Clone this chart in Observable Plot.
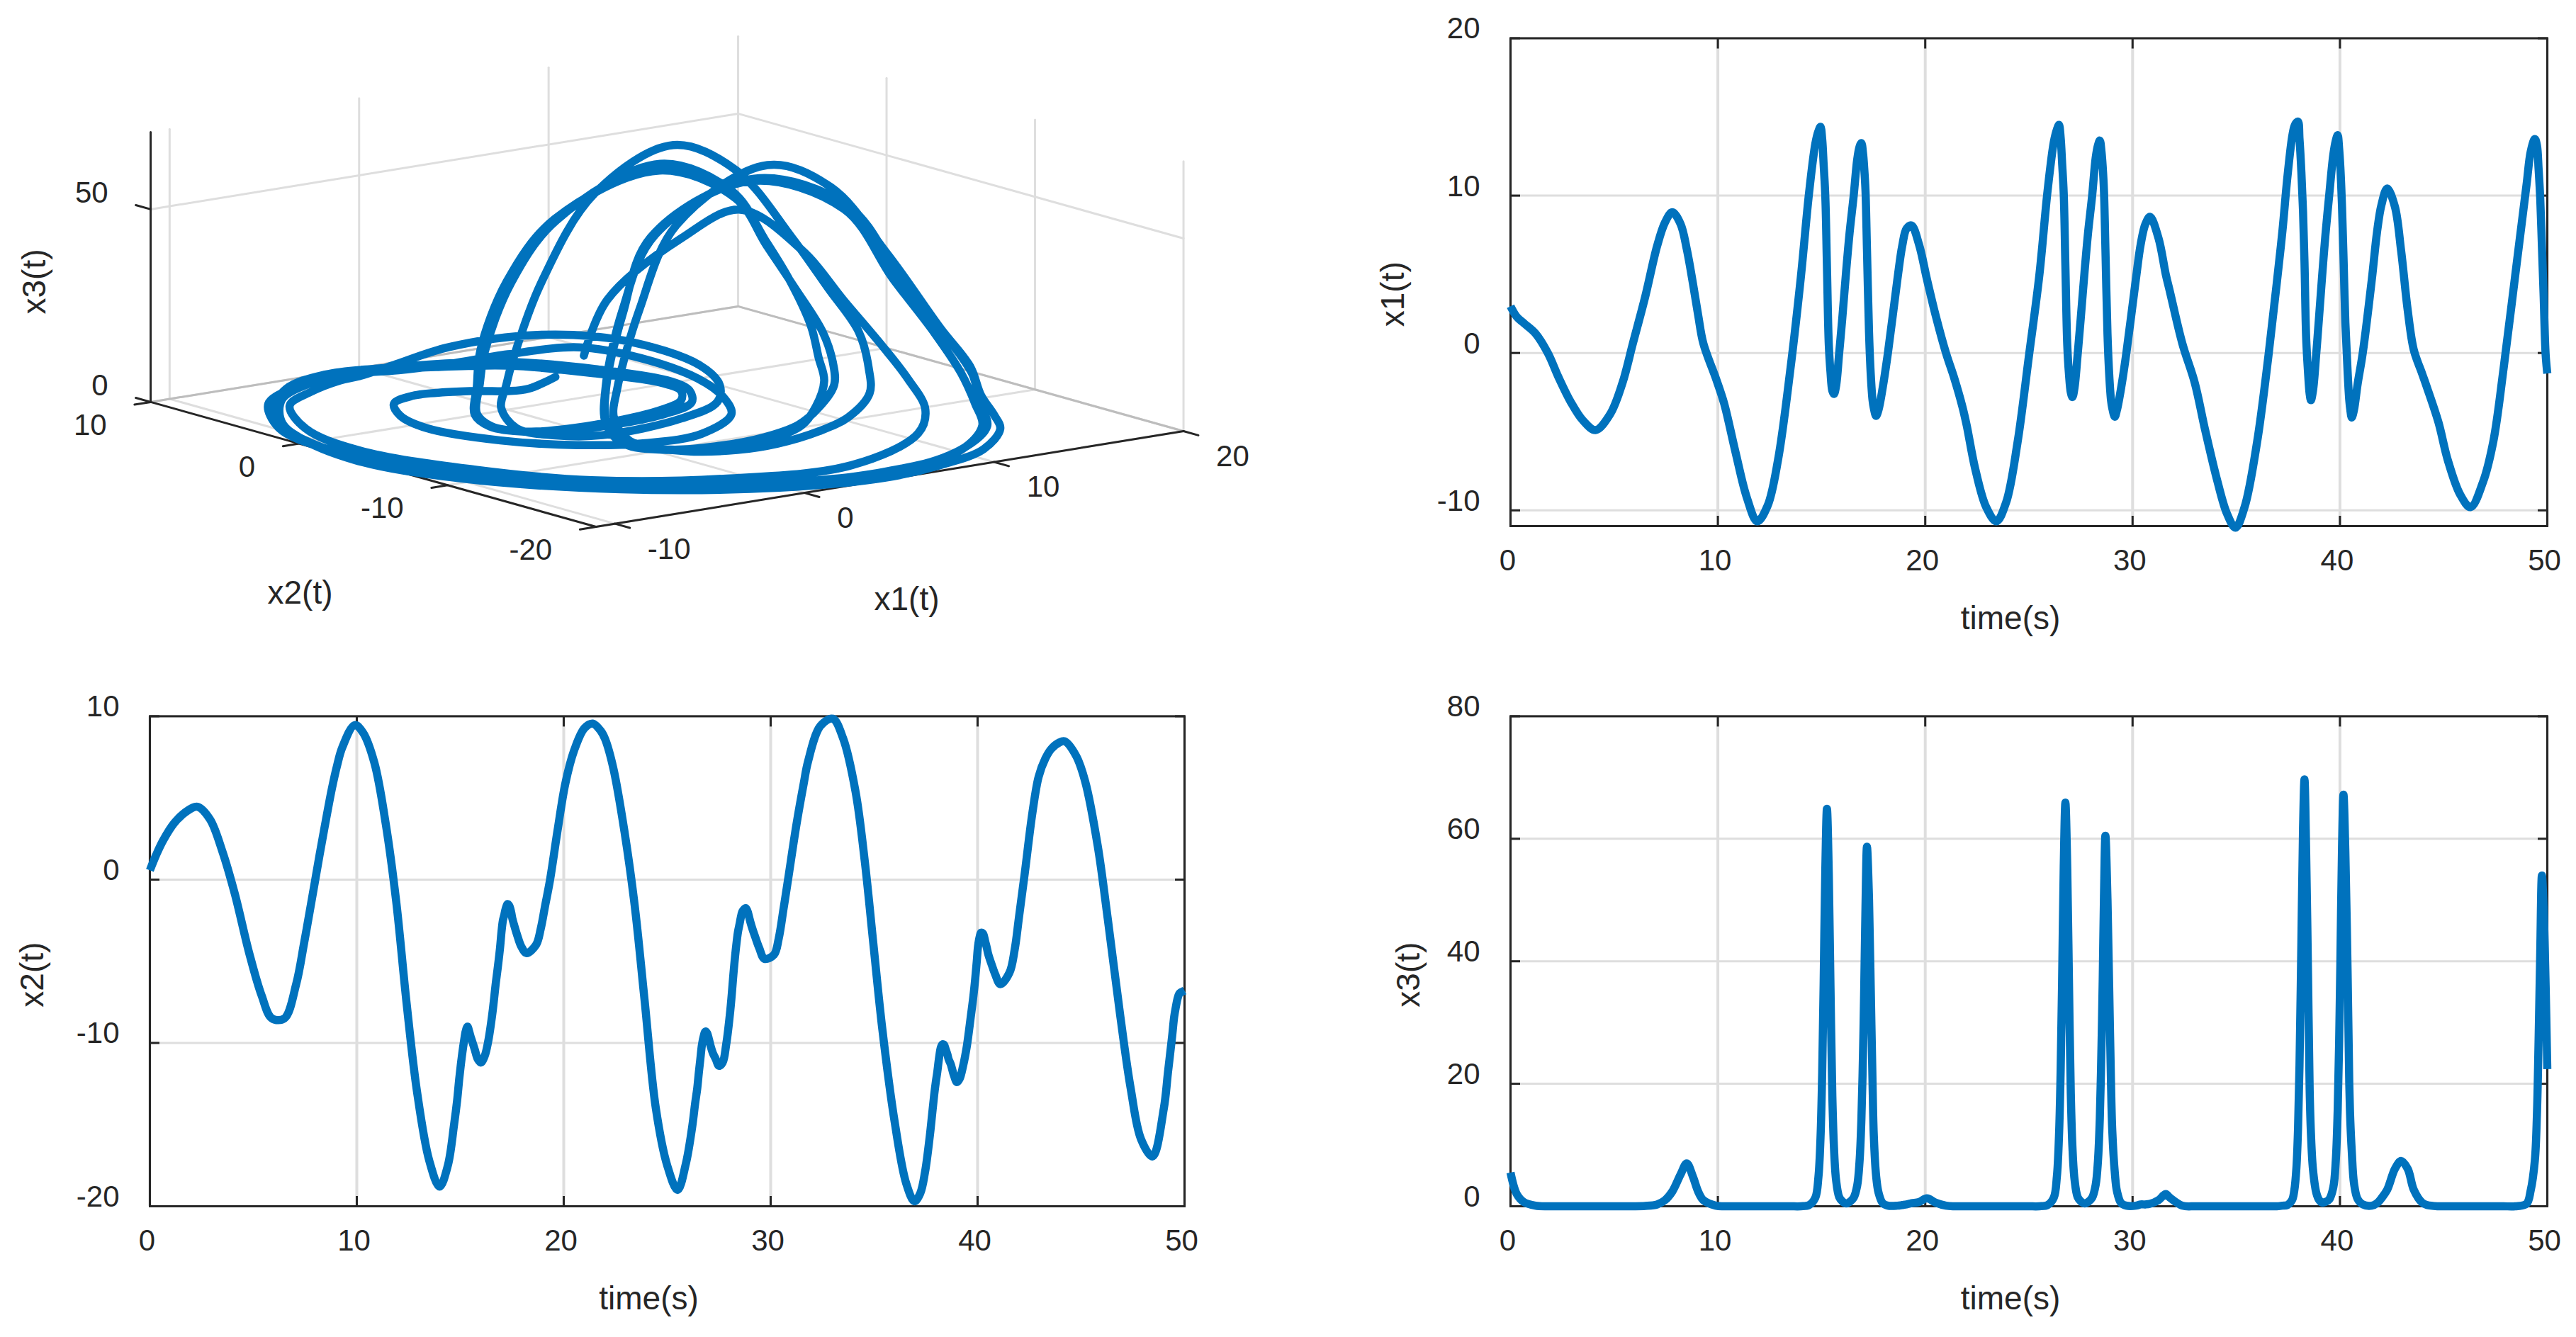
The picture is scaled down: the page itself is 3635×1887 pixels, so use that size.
<!DOCTYPE html>
<html><head><meta charset="utf-8">
<script src="https://cdn.jsdelivr.net/npm/d3@7"></script>
<script src="https://cdn.jsdelivr.net/npm/@observablehq/plot@0.6"></script>
<style>html,body{margin:0;background:#fff}#c{position:relative;width:3635px;height:1887px;overflow:hidden}</style>
</head><body><div id="c"></div>
<script>
const time = [
0,.3,.64,1.2,1.8,2.3,2.9,3.5,4.1,4.8,5.4,5.9,6.5,7.07,7.45,7.8,8.2,8.5,8.8,9.05,9.3,9.9,10.3,10.85,11.4,11.9,12.4,12.9,13.5,
14,14.4,14.7,14.85,14.95,15.03,15.1,15.18,15.26,15.35,15.43,15.52,15.6,15.7,15.85,16,16.18,16.35,16.55,16.72,16.83,16.92,17,17.06,17.12,17.19,17.29,17.37,17.46,17.52,17.63,17.75,17.95,18.2,18.66,18.89,19.1,19.34,
19.7,20.08,20.5,21,21.4,21.79,22,22.4,22.94,23.43,23.9,24.45,25,
25.5,25.9,26.2,26.35,26.45,26.53,26.6,26.68,26.76,26.85,26.93,27.02,27.1,27.2,27.35,27.5,27.68,27.85,28.05,28.22,28.33,28.42,28.5,28.56,28.62,28.69,28.79,28.87,28.96,29.02,29.14,29.25,29.45,29.7,30.16,30.39,30.62,30.84,
31.25,31.6,31.8,32.4,33,33.5,34.1,34.55,34.96,35.4,36,36.55,36.95,37.23,
37.46,37.69,37.8,37.9,37.98,38.05,38.14,38.22,38.29,38.37,38.46,38.54,38.6,38.7,38.86,39,39.13,39.3,39.48,39.68,39.8,39.89,39.96,40.02,40.1,40.17,40.26,40.37,40.45,40.5,40.57,40.68,40.85,41.1,41.54,41.79,42,42.28,
42.65,42.95,43.27,43.56,43.96,44.2,44.75,45.2,45.8,46.3,46.9,47.4,47.9,48.45,49,49.2,49.4,49.5,49.58,49.66,49.74,49.82,49.92,50];
const x1 = [
2.97,2.3,1.9,1.25,0,-1.5,-3.1,-4.3,-4.9,-3.9,-1.9,.6,3.6,6.8,8.3,8.95,8.2,6.6,4.4,2.4,.6,-1.6,-3.2,-6.3,-9.2,-10.7,-9.7,-6.8,-1,
4.8,10.2,13.3,14.1,14.37,13.6,12,10,5.5,.5,-1.2,-2.4,-2.6,-2.1,0,2.2,5.1,7.6,10,12.3,13.1,13.34,12.7,11.7,10.3,6.6,1.3,-1.3,-3,-3.5,-4,-3.6,-2.2,0,4.7,6.8,7.9,8.1,
6.9,4.7,2.4,0,-1.6,-3.4,-4.6,-7.3,-9.8,-10.7,-9.5,-5.7,-.2,
4.9,10.3,13.4,14.2,14.5,13.7,12.1,10.1,5.5,.5,-1.3,-2.5,-2.8,-2.2,-.1,2.2,5.1,7.6,10,12.4,13.2,13.5,12.8,11.8,10.3,6.6,1.2,-1.3,-3,-3.5,-4.05,-3.6,-2.2,0,4.7,6.9,8.2,8.65,
7.3,5,3.9,.6,-1.9,-4.9,-8.2,-10.2,-11.1,-9.8,-5.7,-.2,4.4,7.8,
11.1,13.7,14.4,14.65,14.7,13.6,11.5,9,5.8,1,-1.2,-2.6,-3,-2.4,0,2.4,4.7,7.5,10,12.6,13.5,13.84,13,11.8,9.3,6.2,2,-1.2,-3,-3.6,-4.1,-3.6,-2,0,4.7,7.7,9.4,10.46,
9.3,6.5,2.7,.2,-1.3,-2.2,-4.4,-6.8,-9,-9.8,-8.2,-5.6,-.9,4.9,10.7,12.8,13.6,13.2,11.7,9.8,6.8,3.8,-.1,-1.3];
const x2 = [
.57,1.5,2.4,3.5,4.2,4.46,3.7,1.74,-.85,-4.5,-7.1,-8.5,-8.5,-6.4,-3.9,-1.4,1.5,3.6,5.6,7,8.1,9.46,9,7.15,3.4,-1.3,-7.5,-12.9,-17.2,
-18.8,-17.5,-15,-13.5,-12.2,-11.3,-10.6,-9.9,-9.3,-9,-9.3,-9.7,-10,-10.4,-11,-11.2,-10.8,-9.9,-8.2,-6.3,-5.2,-4.2,-3.1,-2.5,-2.2,-1.8,-1.5,-1.6,-2,-2.4,-2.9,-3.4,-4.1,-4.5,-4,-3,-1.6,0,
3,5.9,7.9,9.27,9.55,9.1,8.6,6.8,2.9,-1.6,-7.3,-14,-17.5,
-19,-17.4,-15.2,-13.7,-12.8,-11.8,-11,-10.1,-9.6,-9.3,-9.4,-9.8,-10.2,-10.6,-11,-11.4,-11.2,-10.1,-8,-5.5,-4.1,-3.2,-2.7,-2.3,-2,-1.85,-1.75,-1.9,-2.3,-2.6,-3.1,-3.5,-4.2,-4.85,-4.6,-3.6,-1.8,0,
3.4,5.9,7.2,9.4,9.85,8.65,5.4,1.1,-3.9,-9.2,-14.9,-18.6,-19.7,-19.2,
-17.9,-15.7,-14.4,-13.2,-12.4,-11.8,-10.9,-10.3,-10.1,-10.1,-10.4,-10.7,-11,-11.3,-12,-12.4,-12.2,-11.4,-10.2,-8.3,-7.1,-6,-5,-4.1,-3.5,-3.25,-3.3,-3.8,-4.2,-4.5,-4.8,-5.2,-5.8,-6.4,-5.7,-4.3,-2.3,.4,
4.1,6.3,7.4,8,8.4,8.47,7.6,6,2.1,-2.5,-8.4,-12.8,-15.9,-16.95,-14,-11.8,-9.6,-8.4,-7.8,-7.3,-7,-6.9,-6.85,-6.8];
const x3 = [
5.5,2,.7,.1,0,0,0,0,0,0,0,0,.05,.3,1,2.4,5.2,7,4.8,2.4,1,.1,0,0,0,0,0,0,0,
0,.2,1.4,4.8,11.2,21.7,36,54.7,64.9,54,36,18,9.5,4.3,1.5,.8,.45,.7,1.4,3.4,7.2,14,25,36,49,58.7,50,36,20,11.5,5,2.2,.5,.1,.1,.2,.3,.5,
.7,1.3,.6,.1,0,0,0,0,0,0,0,0,0,
0,.2,1.4,4.9,11.4,22,36.5,55.5,65.9,55,37,18.5,9.6,4.4,1.5,.8,.45,.7,1.4,3.5,7.4,14.4,26,37,50.5,60.5,50,36,20,12.4,5.6,2.4,.5,.1,.1,.3,.3,.4,
1,2,1.4,.1,0,0,0,0,0,0,0,0,0,.1,
.2,1,2.6,6.2,12.8,23,43,61.6,69.7,58,38,19,12,6,2.2,1,.6,.7,1.1,3.1,7.5,15.5,26.5,39.6,58.5,67.2,58,38,20,14,9,3.7,1.2,.3,.1,.5,1.3,2.7,
6.1,7.4,6.1,2.7,.6,.2,0,0,0,0,0,0,0,0,.4,2.6,7.5,15,27,41.5,54,49,36,22.4];
const timeTicks = [0,10,20,30,40,50];
const x1Ticks = [-10,0,10,20], x2Ticks = [-20,-10,0,10], x3Ticks = [0,20,40,60,80], zTicks = [0,50];
const x1Lim = [-11,20], x2Lim = [-20,10], zLim = [0,70];

if (new Set([time.length,x1.length,x2.length,x3.length]).size !== 1)
  throw new Error("lengths "+[time.length,x1.length,x2.length,x3.length]);

const FONT = "Liberation Sans, Arial, sans-serif", INK = "#262626", GRID = "#dedede", BLUE = "#0072BD";
const TICK = 42, LABEL = 46, LINE = 11.5;
const host = document.getElementById("c");

function panel({left, top, width, height, ml, mr, mt, mb, y, yDomain, yTicks, yLabel, labelDx, labelDy}) {
  const rows = time.map((t,i)=>({t, v:y[i]}));
  host.append(Plot.plot({
    width, height, marginLeft:ml, marginRight:mr, marginTop:mt, marginBottom:mb,
    style:{position:"absolute", left:left+"px", top:top+"px", background:"transparent", fontFamily:FONT, overflow:"visible"},
    x:{domain:[0,50]}, y:{domain:yDomain},
    marks:[
      Plot.gridX(timeTicks,{stroke:GRID,strokeOpacity:1,strokeWidth:4}),
      Plot.gridY(yTicks,{stroke:GRID,strokeOpacity:1,strokeWidth:3}),
      Plot.axisX(timeTicks,{anchor:"bottom",tickSize:-14,strokeWidth:3,stroke:INK,text:null,label:null}),
      Plot.axisX(timeTicks,{anchor:"top",tickSize:-14,strokeWidth:3,stroke:INK,text:null,label:null}),
      Plot.axisY(yTicks,{anchor:"left",tickSize:-14,strokeWidth:3,stroke:INK,text:null,label:null}),
      Plot.axisY(yTicks,{anchor:"right",tickSize:-14,strokeWidth:3,stroke:INK,text:null,label:null}),
      Plot.frame({stroke:INK,strokeWidth:3}),
      Plot.text(timeTicks,{x:d=>d,frameAnchor:"bottom",dy:49,dx:-4,text:d=>String(d),fontSize:TICK,fill:INK,lineAnchor:"middle"}),
      Plot.text(yTicks,{y:d=>d,frameAnchor:"left",dx:-43,dy:-13,text:d=>String(d),fontSize:TICK,fill:INK,textAnchor:"end",lineAnchor:"middle"}),
      Plot.text(["time(s)"],{frameAnchor:"bottom",dy:131,dx:-26,fontSize:LABEL,fill:INK,lineAnchor:"middle"}),
      Plot.text([yLabel],{frameAnchor:"left",dx:labelDx,dy:labelDy,rotate:-90,fontSize:LABEL,fill:INK,lineAnchor:"middle",textAnchor:"middle"}),
      Plot.line(rows,{x:"t",y:"v",stroke:BLUE,strokeWidth:LINE,curve:"catmull-rom",strokeLinejoin:"round",strokeLinecap:"butt"})
    ]
  }));
}

// 3-D view: oblique axonometric projection of (x1,x2,x3) onto the page plane
const SX = 26.74, SY = 5.44;
const kx2 = 20.95/SX, kx1y = 4.355/SY, kx2y = 5.87/SY;
const U = (a,b)=> a - kx2*b;
const W = (a,b,c)=> c + kx1y*a + kx2y*b;
const W3 = 1818, H3 = 950, cornerPx = [840.6,743];
const u0 = U(x1Lim[0],x2Lim[0]), w0 = W(x1Lim[0],x2Lim[0],0);
const uDom = [u0 - cornerPx[0]/SX, u0 + (W3-cornerPx[0])/SX];
const wDom = [w0 - (H3-cornerPx[1])/SY, w0 + cornerPx[1]/SY];
const P = (a,b,c)=>({u:U(a,b),w:W(a,b,c)});
const seg = (pts,id)=>pts.map(p=>({...P(...p),id}));
const [a0,a1] = x1Lim, [b0,b1] = x2Lim, [c0,c1] = zLim;

const light = [], dark = [], black = [];
x1Ticks.forEach((a,i)=>{
  light.push(...seg([[a,b0,0],[a,b1,0]],"fa"+i));
  light.push(...seg([[a,b1,0],[a,b1,c1]],"wa"+i));
  black.push(...seg([[a,b0,0],[a,b0-1,0]],"ta"+i));
});
x2Ticks.forEach((b,i)=>{
  light.push(...seg([[a0,b,0],[a1,b,0]],"fb"+i));
  light.push(...seg([[a1,b,0],[a1,b,c1]],"wb"+i));
  black.push(...seg([[a0,b,0],[a0-.85,b,0]],"tb"+i));
});
zTicks.forEach((c,i)=>{
  if (c>0) light.push(...seg([[a0,b1,c],[a1,b1,c],[a1,b0,c]],"z"+i));
  black.push(...seg([[a0,b1,c],[a0,b1+1,c]],"tz"+i));
});
dark.push(...seg([[a0,b1,0],[a1,b1,0],[a1,b0,0]],"back"));
black.push(...seg([[a0,b1,c1],[a0,b1,0],[a0,b0,0],[a1,b0,0]],"axes"));

const traj = time.map((t,i)=>P(x1[i],x2[i],x3[i]));
const tk = (arr,fn)=>arr.map(v=>({...fn(v),label:String(v)}));

host.append(Plot.plot({
  width:W3, height:H3, margin:0,
  style:{position:"absolute",left:"0px",top:"0px",background:"transparent",fontFamily:FONT,overflow:"visible"},
  x:{domain:uDom,range:[0,W3],axis:null}, y:{domain:wDom,range:[H3,0],axis:null},
  marks:[
    Plot.line(light,{x:"u",y:"w",z:"id",stroke:GRID,strokeWidth:3}),
    Plot.line(dark,{x:"u",y:"w",z:"id",stroke:"#bdbdbd",strokeWidth:3}),
    Plot.line(black,{x:"u",y:"w",z:"id",stroke:INK,strokeWidth:3}),
    Plot.text(tk(x1Ticks,v=>P(v,b0,0)),{x:"u",y:"w",text:"label",dx:46,dy:36,textAnchor:"start",lineAnchor:"middle",fontSize:TICK,fill:INK}),
    Plot.text(tk(x2Ticks,v=>P(a0,v,0)),{x:"u",y:"w",text:"label",dx:-62,dy:33,textAnchor:"end",lineAnchor:"middle",fontSize:TICK,fill:INK}),
    Plot.text(tk(zTicks,v=>P(a0,b1,v)),{x:"u",y:"w",text:"label",dx:-60,dy:-23,textAnchor:"end",lineAnchor:"middle",fontSize:TICK,fill:INK}),
    Plot.text(["x2(t)"],{frameAnchor:"top-left",dx:423,dy:837,textAnchor:"middle",lineAnchor:"middle",fontSize:LABEL,fill:INK}),
    Plot.text(["x1(t)"],{frameAnchor:"top-left",dx:1279,dy:846,textAnchor:"middle",lineAnchor:"middle",fontSize:LABEL,fill:INK}),
    Plot.text(["x3(t)"],{frameAnchor:"top-left",dx:49,dy:397,rotate:-90,textAnchor:"middle",lineAnchor:"middle",fontSize:LABEL,fill:INK}),
    Plot.line(traj,{x:"u",y:"w",stroke:BLUE,strokeWidth:LINE,curve:"catmull-rom",strokeLinejoin:"round"})
  ]
}));

panel({left:1818,top:0,width:1817,height:950,ml:313,mr:41,mt:53.5,mb:208,y:x1,yDomain:[-11,20],yTicks:x1Ticks,yLabel:"x1(t)",labelDx:-165,labelDy:17});
panel({left:0,top:950,width:1818,height:937,ml:211,mr:147,mt:60.4,mb:185,y:x2,yDomain:[-20,10],yTicks:x2Ticks,yLabel:"x2(t)",labelDx:-165,labelDy:19});
panel({left:1818,top:950,width:1817,height:937,ml:313,mr:41,mt:60.4,mb:185,y:x3,yDomain:[0,80],yTicks:x3Ticks,yLabel:"x3(t)",labelDx:-143,labelDy:19});
</script></body></html>
